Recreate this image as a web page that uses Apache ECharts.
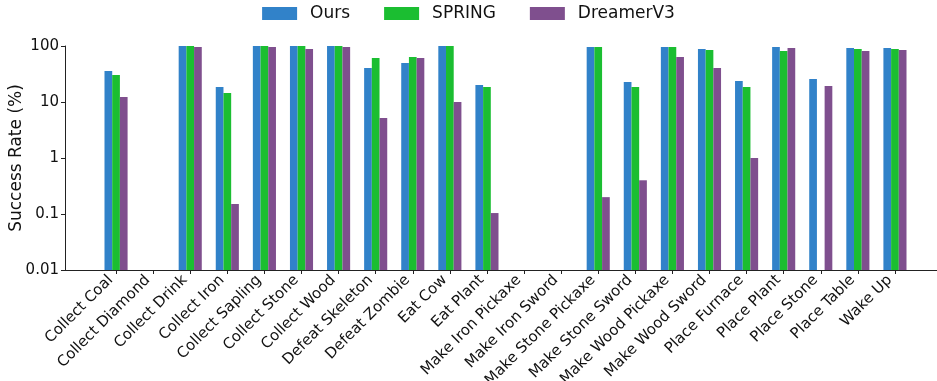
<!DOCTYPE html>
<html>
<head>
<meta charset="utf-8">
<script src="https://cdn.jsdelivr.net/npm/echarts@6/dist/echarts.min.js"></script>
<style>html,body{margin:0;padding:0;background:#fff}#c{width:937px;height:381px}</style>
</head>
<body>
<div id="c"></div>
<script>
const categories = ["Collect Coal","Collect Diamond","Collect Drink","Collect Iron","Collect Sapling","Collect Stone","Collect Wood","Defeat Skeleton","Defeat Zombie","Eat Cow","Eat Plant","Make Iron Pickaxe","Make Iron Sword","Make Stone Pickaxe","Make Stone Sword","Make Wood Pickaxe","Make Wood Sword","Place Furnace","Place Plant","Place Stone","Place Table","Wake Up"];
const ours    = [35.8, null, 100, 18.5, 100, 100, 100, 40.5, 49.7, 100, 20.1, null, null, 96, 22.8, 96, 88, 23.7, 96, 25.8, 92, 92];
const spring  = [30.3, null, 100, 14.5, 100, 100, 100, 61, 63.7, 100, 18.5, null, null, 96, 18.5, 96, 85, 18.5, 81.5, null, 88, 88];
const dreamer = [12.3, null, 96, 0.151, 96, 88, 96, 5.2, 61, 10, 0.104, null, null, 0.2, 0.4, 63.7, 40.5, 1.0, 92, 19.3, 81.5, 85];
const seriesNames = ["Ours", "SPRING", "DreamerV3"];
const yTicks = [0.01, 0.1, 1, 10, 100];

const colors = ["#3182c9", "#1bbe31", "#7f4f8e"];
const font = "DejaVu Sans";
const BAR_W = 7.7;
const chart = echarts.init(document.getElementById('c'), null, {renderer: 'canvas'});
const fmt = v => { const r = yTicks.find(t => Math.abs(Math.log10(t) - Math.log10(v)) < 1e-6); return r === undefined ? '' : String(r); };
const mk = (name, data, i) => ({
  name, type: 'custom', xAxisIndex: 1, yAxisIndex: 1,
  data: data.map((v, k) => [k, v]).filter(d => d[1] !== null),
  encode: {x: 0, y: 1},
  itemStyle: {color: colors[i]},
  emphasis: {disabled: true},
  renderItem: (params, api) => {
    const cat = api.value(0), v = api.value(1);
    const top = api.coord([cat, v]);
    const base = api.coord([cat, yTicks[0]]);
    const x = top[0] + (i - 1) * BAR_W - BAR_W / 2;
    return {type: 'rect', shape: {x: x, y: top[1], width: BAR_W, height: base[1] - top[1]},
            style: {fill: colors[i]}};
  }
});
chart.setOption({
  animation: false,
  textStyle: {fontFamily: font},
  color: colors,
  legend: {
    top: 0, left: 'center', itemWidth: 35, itemHeight: 13, itemGap: 34,
    textStyle: {fontFamily: font, fontSize: 17, color: '#111', padding: [0, 0, 0, 8]},
    icon: 'rect', data: seriesNames.map((n, i) => ({name: n, itemStyle: {color: colors[i]}}))
  },
  grid: [
    {left: 65, right: 0, top: 46, bottom: 111, containLabel: false, outerBoundsMode: 'none'},
    {left: 97.5, right: 23.5, top: 46, bottom: 111, containLabel: false, outerBoundsMode: 'none'}
  ],
  xAxis: [
    {gridIndex: 0, type: 'value', min: 0, max: 1, axisLine: {lineStyle: {color: '#222', width: 1}},
     axisTick: {show: false}, axisLabel: {show: false}, splitLine: {show: false}},
    {gridIndex: 1, type: 'category', data: categories, axisLine: {show: false},
     axisTick: {show: true, alignWithLabel: true, length: 4, lineStyle: {color: '#222'}},
     axisLabel: {rotate: 45, fontSize: 15, color: '#111', fontFamily: font, margin: 13, interval: 0,
                 align: 'right', verticalAlign: 'bottom'}}
  ],
  yAxis: [
    {gridIndex: 0, type: 'log', logBase: 10, min: 0.01, max: 100,
     name: 'Success Rate (%)', nameLocation: 'middle', nameGap: 40, nameMoveOverlap: false,
     nameTextStyle: {fontSize: 17, color: '#111', fontFamily: font},
     axisLine: {show: true, lineStyle: {color: '#222', width: 1}},
     axisTick: {show: true, length: 4, lineStyle: {color: '#222'}},
     axisLabel: {fontSize: 15, color: '#111', fontFamily: font, margin: 6, formatter: fmt},
     splitLine: {show: false}},
    {gridIndex: 1, type: 'log', logBase: 10, min: 0.01, max: 100, show: false,
     axisLine: {show: false}, axisTick: {show: false}, axisLabel: {show: false}, splitLine: {show: false}}
  ],
  series: [mk(seriesNames[0], ours, 0), mk(seriesNames[1], spring, 1), mk(seriesNames[2], dreamer, 2)]
});
</script>
</body>
</html>
